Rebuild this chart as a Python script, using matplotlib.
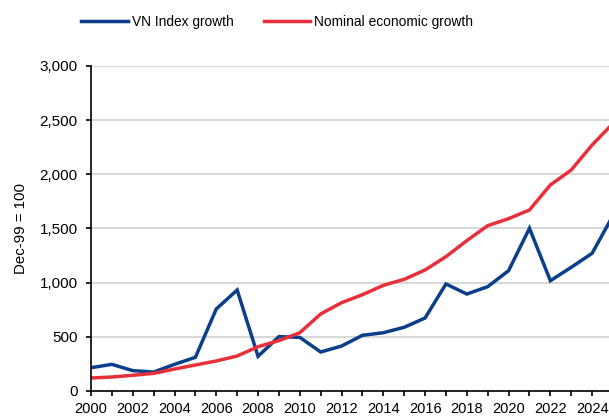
import matplotlib.pyplot as plt
from matplotlib.ticker import MultipleLocator, FuncFormatter

plt.rcParams['font.family'] = ['Liberation Sans', 'DejaVu Sans']

years = list(range(2000, 2026))
vn_index = [215, 246, 188, 175, 246, 311, 757, 932, 320, 502, 495, 360, 415, 514,
            538, 588, 674, 988, 895, 963, 1111, 1502, 1018, 1142, 1271, 1620]
nominal_gdp = [120, 129, 145, 163, 203, 240, 277, 323, 409, 465, 538, 711, 815, 889,
               975, 1031, 1117, 1240, 1388, 1526, 1591, 1671, 1902, 2040, 2271, 2470]

blue = '#0B3F8A'
red = '#E8303A'

fig = plt.figure(figsize=(6.09, 4.17), dpi=100)
ax = fig.add_axes([91 / 609, 26 / 417, (613 - 91) / 609, 325 / 417])

ax.plot(years, vn_index, color=blue, lw=2.5, label='VN Index growth', solid_joinstyle='miter')
ax.plot(years, nominal_gdp, color=red, lw=2.5, label='Nominal economic growth', solid_joinstyle='miter')

ax.set_xlim(2000, 2025)
ax.set_ylim(0, 3000)
ax.yaxis.set_major_locator(MultipleLocator(500))
ax.yaxis.set_major_formatter(FuncFormatter(lambda v, p: f'{int(v):,}'))
ax.xaxis.set_major_locator(MultipleLocator(2))
ax.xaxis.set_minor_locator(MultipleLocator(1))

ax.grid(axis='y', color='#d9d9d9', lw=1.5)
ax.set_axisbelow(True)
for s in ['top', 'right']:
    ax.spines[s].set_visible(False)
for s in ['left', 'bottom']:
    ax.spines[s].set_linewidth(1.2)
    ax.spines[s].set_color('black')

ax.tick_params(axis='both', which='both', direction='out', length=3.6, width=1.2)
ax.tick_params(axis='y', labelsize=11, pad=6)
ax.tick_params(axis='x', which='major', labelsize=10.5, pad=4.5)
ax.set_ylabel('Dec-99 = 100', fontsize=10.8, labelpad=8)

ax.legend(loc='upper left', bbox_to_anchor=(-0.042, 1.196), ncol=2, frameon=False,
          fontsize=9.9, handlelength=3.4, handletextpad=0.25, columnspacing=2.2)

fig.savefig('out.png', dpi=100)
